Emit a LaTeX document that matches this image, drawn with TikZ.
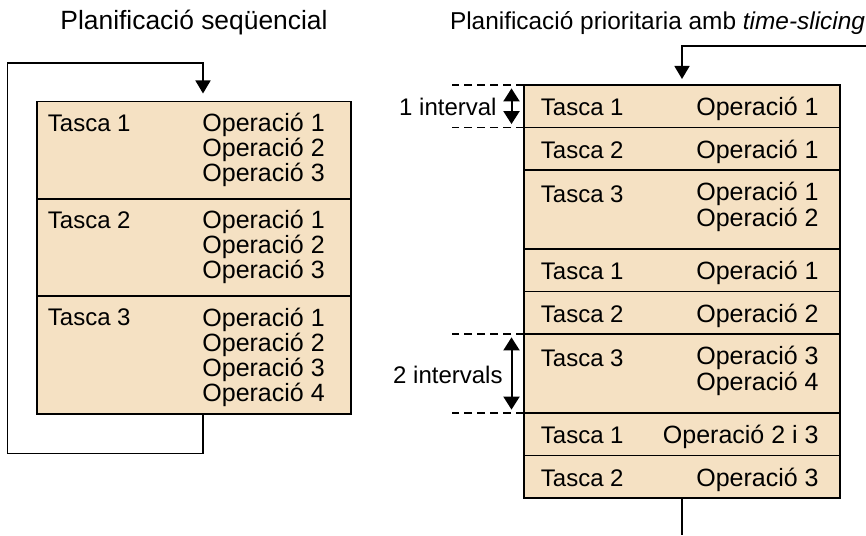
\documentclass[tikz,border=0pt]{standalone}
\usepackage{fontspec}
\setmainfont{Liberation Sans}
\usetikzlibrary{positioning,arrows.meta}
\definecolor{slotfill}{RGB}{245,225,195}
\tikzset{
    slot/.style={draw, fill=slotfill, line width=0.9pt, outer sep=0pt, inner sep=0pt},
    seqslot/.style={slot, minimum width=157pt},
    tslot/.style={slot, minimum width=158pt, minimum height=21.25pt},
    tslot2/.style={tslot, minimum height=39.5pt},
    tasc/.style={anchor=base west, inner sep=0pt, font=\fontsize{12}{12}\selectfont},
    oper/.style={inner sep=0pt, font=\fontsize{12.5}{12.5}\selectfont},
    tsop/.style={oper, anchor=base east, align=right, font=\fontsize{12.5}{11.75}\selectfont},
    title/.style={anchor=base, inner sep=0pt, font=\fontsize{13.2}{13}\selectfont},
    flow/.style={line width=0.8pt, -{Triangle[width=7.5pt,length=6.5pt]}, shorten >=3.5pt},
    guide/.style={line width=0.7pt, dash pattern=on 4pt off 2.5pt},
    span/.style={line width=1pt, {Triangle[width=8pt,length=6.5pt]}-{Triangle[width=8pt,length=6.5pt]}, shorten >=1.7pt, shorten <=1.7pt}
}
\begin{document}
\begin{tikzpicture}[x=0.5pt, y=0.5pt]
    \useasboundingbox (0,0) rectangle (866,535);
    \node[title] (seqtitle) at (194,505.7) {Planificació seqüencial};
    \node[title, font=\fontsize{12.2}{13}\selectfont] (tstitle) at (657.5,505.7) {Planificació prioritaria amb \textit{time-slicing}};
    % sequencial
    \node[seqslot, minimum height=48.75pt, anchor=north west] (l1) at (37,433.5) {};
    \node[seqslot, minimum height=48.5pt, below=0pt of l1] (l2) {};
    \node[seqslot, minimum height=59pt, below=0pt of l2] (l3) {};
    \draw[line width=1.4pt] (l1.south west) -- (l1.south east);
    \node[tasc] at ([shift={(10.5,-30)}]l1.north west) {Tasca 1};
    \node[tasc] at ([shift={(10.5,-30)}]l2.north west) {Tasca 2};
    \node[tasc] at ([shift={(10.5,-30)}]l3.north west) {Tasca 3};
    % base of a multi-line node is its last line
    \node[oper, anchor=base west, align=left] at ([shift={(165,-80)}]l1.north west) {Operació 1\\Operació 2\\Operació 3};
    \node[oper, anchor=base west, align=left] at ([shift={(165,-80)}]l2.north west) {Operació 1\\Operació 2\\Operació 3};
    \node[oper, anchor=base west, align=left] at ([shift={(165,-105.5)}]l3.north west) {Operació 1\\Operació 2\\Operació 3\\Operació 4};
    \coordinate (loopcorner) at (7.5,471.7);
    \draw[flow, shorten >=4pt] ([xshift=4.5pt]l3.south) -- ++(0,-39.3) -| (loopcorner) -| ([xshift=4.5pt]l1.north);
    % time-slicing
    \node[tslot, anchor=north west] (r1) at (524,450) {};
    \node[tslot, below=0pt of r1] (r2) {};
    \node[tslot2, below=0pt of r2] (r3) {};
    \node[tslot, below=0pt of r3] (r4) {};
    \node[tslot, below=0pt of r4] (r5) {};
    \node[tslot2, below=0pt of r5] (r6) {};
    \node[tslot, below=0pt of r6] (r7) {};
    \node[tslot, below=0pt of r7] (r8) {};
    \foreach \r/\t/\d in {r1/1/31, r2/2/31, r3/3/33, r4/1/31, r5/2/31, r6/3/33, r7/1/31, r8/2/31}
        \node[tasc] at ([shift={(16.5,-\d)}]\r.north west) {Tasca \t};
    \node[tsop] at ([shift={(-21,-31)}]r1.north east) {Operació 1};
    \node[tsop] at ([shift={(-21,-31)}]r2.north east) {Operació 1};
    \node[tsop] at ([shift={(-21,-56.5)}]r3.north east) {Operació 1\\Operació 2};
    \node[tsop] at ([shift={(-21,-31)}]r4.north east) {Operació 1};
    \node[tsop] at ([shift={(-21,-31)}]r5.north east) {Operació 2};
    \node[tsop] at ([shift={(-21,-56.5)}]r6.north east) {Operació 3\\Operació 4};
    \node[tsop] at ([shift={(-21,-31)}]r7.north east) {Operació 2 i 3};
    \node[tsop] at ([shift={(-21,-31)}]r8.north east) {Operació 3};
    \coordinate (feed) at (866,489);
    \coordinate (out) at (682,0);
    \draw[flow, shorten >=3pt] (feed) -| (r1.north);
    \draw[line width=0.8pt] (r8.south) -- (out);
    \draw[guide] (r1.north west) -- ++(-72,0);
    \draw[guide] (r1.south west) -- ++(-72,0);
    \draw[guide] (r6.north west) -- ++(-72,0);
    \draw[guide] (r6.south west) -- ++(-72,0);
    \draw[span] ([shift={(-12.5,0)}]r1.north west) -- ([shift={(-12.5,0)}]r1.south west);
    \draw[span] ([shift={(-12.5,0)}]r6.north west) -- ([shift={(-12.5,0)}]r6.south west);
    \node[tasc, anchor=base east] (oneint) at ([shift={(-27,-31)}]r1.north west) {1 interval};
    \node[tasc, anchor=base east] (twoint) at ([shift={(-21,-49.3)}]r6.north west) {2 intervals};
\end{tikzpicture}
\end{document}
